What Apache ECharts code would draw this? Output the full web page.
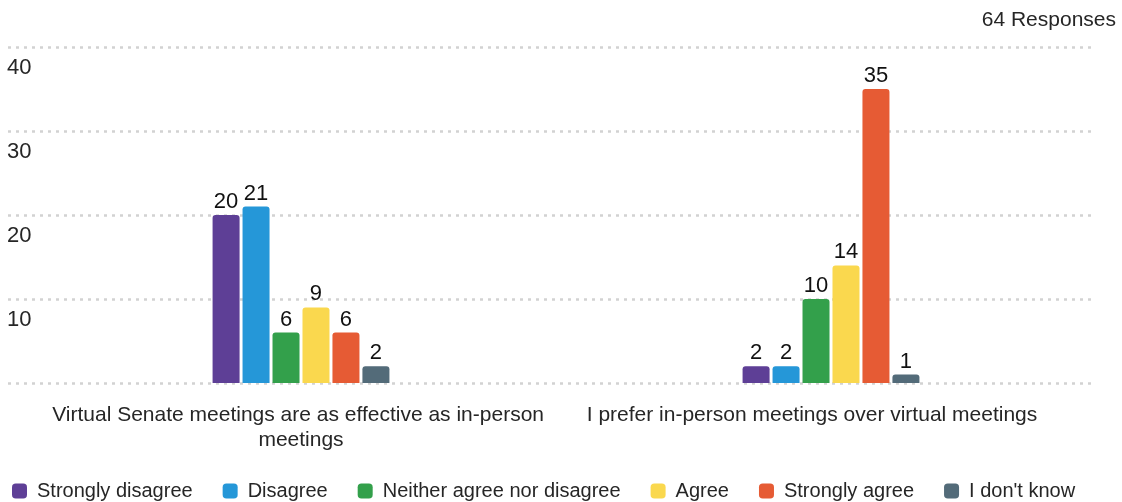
<!DOCTYPE html>
<html>
<head>
<meta charset="utf-8">
<title>Senate meeting survey</title>
<script src="https://cdn.jsdelivr.net/npm/echarts@6/dist/echarts.min.js"></script>
<style>
  html, body { margin: 0; padding: 0; background: #ffffff; }
  #chart { width: 1122px; height: 502px; }
</style>
</head>
<body>
<div id="chart"></div>
<script>
// Survey statements (x categories)
const questions = [
  'Virtual Senate meetings are as effective as in-person meetings',
  'I prefer in-person meetings over virtual meetings'
];

// Response options, one bar series each
const responseNames = ['Strongly disagree', 'Disagree', 'Neither agree nor disagree', 'Agree', 'Strongly agree', "I don't know"];
const responseColors = ['#5E3F96', '#2597D8', '#33A04B', '#FAD84E', '#E65B34', '#536B79'];

// Counts per statement
const stronglyDisagree = [20, 2];
const disagree = [21, 2];
const neither = [6, 10];
const agree = [9, 14];
const stronglyAgree = [6, 35];
const dontKnow = [2, 1];

const yTicks = [0, 10, 20, 30, 40];
const responseCount = '64 Responses';

const seriesValues = [stronglyDisagree, disagree, neither, agree, stronglyAgree, dontKnow];
const font = 'Liberation Sans, Arial, sans-serif';
const textColor = '#262626';

const chart = echarts.init(document.getElementById('chart'), null, { renderer: 'canvas' });

const bars = responseNames.map((name, i) => ({
  name: name,
  type: 'bar',
  xAxisIndex: 0,
  yAxisIndex: 0,
  data: seriesValues[i],
  barWidth: 27,
  barGap: '11%',
  itemStyle: { color: responseColors[i], borderRadius: [3, 3, 0, 0] },
  label: {
    show: true,
    position: 'top',
    distance: 2,
    color: '#111111',
    fontSize: 22,
    fontFamily: font
  }
}));

chart.setOption({
  backgroundColor: '#ffffff',
  animation: false,
  title: {
    text: responseCount,
    right: 1,
    top: 5,
    textStyle: { fontSize: 21, fontWeight: 'normal', color: textColor, fontFamily: font }
  },
  legend: {
    top: 476,
    left: 7,
    itemWidth: 15,
    itemHeight: 15,
    itemGap: 30,
    icon: 'roundRect',
    data: responseNames,
    textStyle: { fontSize: 20, color: textColor, fontFamily: font, padding: [0, 0, 0, 5] }
  },
  grid: [
    { left: 36, right: 26, top: 47, bottom: 119 },
    { left: 8, right: 26, top: 47, bottom: 119 }
  ],
  xAxis: [
    {
      type: 'category',
      gridIndex: 0,
      data: questions.map((q, i) => i === 1
        ? { value: q, textStyle: { padding: [0, 38, 0, 0] } }
        : q),
      axisLine: { show: false },
      axisTick: { show: false },
      axisLabel: {
        interval: 0,
        margin: 20,
        width: 525,
        overflow: 'break',
        lineHeight: 25,
        fontSize: 21,
        color: textColor,
        fontFamily: font
      }
    },
    {
      type: 'value',
      gridIndex: 1,
      show: false,
      min: 0,
      max: 1
    }
  ],
  yAxis: [
    {
      type: 'value',
      gridIndex: 0,
      min: yTicks[0],
      max: yTicks[yTicks.length - 1],
      interval: 10,
      axisLine: { show: false },
      axisTick: { show: false },
      axisLabel: { show: false },
      splitLine: { show: false }
    },
    {
      type: 'value',
      gridIndex: 1,
      min: yTicks[0],
      max: yTicks[yTicks.length - 1],
      interval: 10,
      axisLine: { show: false },
      axisTick: { show: false },
      axisLabel: {
        inside: true,
        showMinLabel: false,
        verticalAlign: 'top',
        lineHeight: 22,
        padding: [10, 0, 0, 0],
        margin: -1,
        fontSize: 22,
        color: textColor,
        fontFamily: font
      },
      splitLine: {
        show: true,
        lineStyle: { color: '#d2d2d2', width: 2.5, type: [3, 5] }
      }
    }
  ],
  series: bars
});
</script>
</body>
</html>
